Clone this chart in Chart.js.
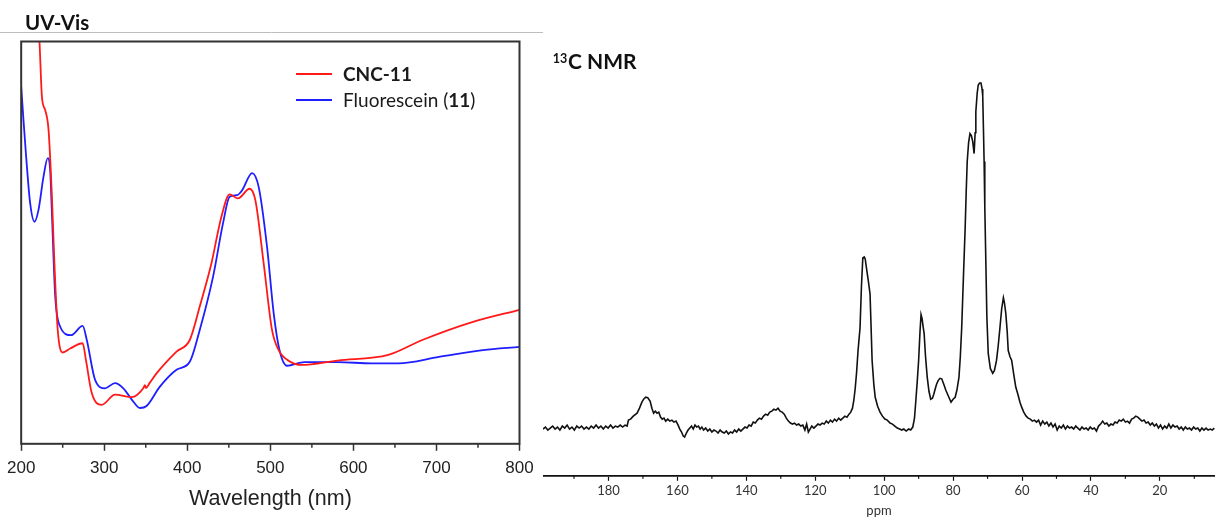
<!DOCTYPE html>
<html><head><meta charset="utf-8">
<script src="https://cdn.jsdelivr.net/npm/chart.js@4.4.0/dist/chart.umd.min.js"></script>
<style>
html,body{margin:0;padding:0;background:#fff;overflow:hidden}
#wrap{position:relative;width:1215px;height:521px}
canvas{position:absolute;top:0}
#uv{left:0}
#nmr{left:543px}
</style></head><body>
<div id="wrap"><canvas id="uv" width="543" height="521"></canvas><canvas id="nmr" width="672" height="521"></canvas></div>
<script>
// ---------- UV-Vis data ----------
const uvTitle = 'UV-Vis';
const uvXTitle = 'Wavelength (nm)';
const redLabel = 'CNC-11';
const blueLabel = 'Fluorescein (11)';
const redWavelength = [212,222,225,229,233,237,240,244,250,259,274,278,285,297,313,333,347,349,350,355,363,387,403,415,429,441,451,461,475,482,492,502,510,524,537,581,642,683,744,800];
const redAbsorbance = [1.25,1.0,0.862,0.829,0.779,0.614,0.449,0.283,0.227,0.237,0.250,0.208,0.126,0.097,0.122,0.116,0.138,0.146,0.139,0.152,0.175,0.229,0.258,0.341,0.448,0.564,0.620,0.610,0.634,0.605,0.448,0.283,0.233,0.204,0.196,0.207,0.221,0.258,0.303,0.333];
const blueWavelength = [200,202.8,206,210.8,216,220.8,226.8,232,234.9,237,241,247,260,274,279,289,301,313,323,335,343,351,367,387,403,415,431,443,451,460,466,478,486,496,504,511,520,541,581,622,654,703,756,800];
const blueAbsorbance = [0.888,0.804,0.713,0.598,0.552,0.581,0.663,0.710,0.680,0.573,0.366,0.291,0.270,0.293,0.258,0.159,0.138,0.151,0.138,0.105,0.089,0.094,0.142,0.184,0.204,0.283,0.415,0.548,0.614,0.618,0.630,0.673,0.638,0.490,0.325,0.233,0.194,0.203,0.203,0.200,0.200,0.216,0.233,0.241];
const uvMinorTicks = [250,350,450,550,650,750];

// ---------- 13C NMR data ----------
const nmrXTitle = 'ppm';
const nmrPpm = [
199.0,198.3,197.6,196.9,196.2,195.5,194.8,194.1,193.4,192.7,
192.0,191.3,190.6,189.9,189.2,188.5,187.8,187.1,186.4,185.7,
185.0,184.3,183.6,182.9,182.2,181.5,180.8,180.1,179.4,178.7,
178.0,177.3,176.6,175.9,175.2,174.6,174.2,173.6,172.8,171.7,
171.0,170.3,169.8,169.2,168.6,167.9,167.4,166.9,166.4,165.9,
165.4,164.9,164.4,163.9,163.4,162.8,162.2,161.6,161.0,160.4,
159.8,159.3,158.8,158.3,157.9,157.4,156.9,156.4,155.9,155.4,
154.9,154.4,153.9,153.4,152.9,152.4,151.8,151.2,150.6,150.0,
149.4,148.8,148.2,147.6,147.0,146.4,145.8,145.2,144.6,144.0,
143.4,142.8,142.2,141.6,141.0,140.4,139.8,139.2,138.6,138.0,
137.4,136.8,136.2,135.6,135.0,134.4,133.8,133.2,132.6,132.0,
131.4,130.8,130.2,129.6,129.0,128.4,127.8,127.2,126.6,126.0,
125.4,124.8,124.2,123.6,123.0,122.5,122.0,121.5,121.0,120.4,
119.8,119.2,118.6,118.0,117.4,116.8,116.2,115.6,115.0,114.4,
113.8,113.2,112.6,112.0,111.4,110.8,110.2,109.7,109.2,108.8,
108.4,108.0,107.6,107.0,106.6,106.2,105.8,105.5,105.1,104.6,
104.1,103.8,103.5,103.0,102.6,101.9,101.2,100.5,99.8,99.1,
98.3,97.6,96.9,96.2,95.5,94.9,94.3,93.6,92.9,92.3,
91.7,91.2,90.8,90.4,90.0,89.6,89.3,89.0,88.7,88.4,
88.0,87.5,87.0,86.5,86.0,85.6,85.3,84.8,84.3,83.8,
83.3,82.7,82.1,81.6,81.1,80.6,80.0,79.4,78.9,78.3,
77.9,77.5,77.0,76.5,76.2,75.9,75.5,75.1,74.7,74.3,
73.9,73.6,73.4,73.0,72.7,72.3,71.9,71.6,71.4,71.2,
71.0,70.8,70.5,70.2,69.8,69.2,68.5,68.0,67.4,66.9,
66.4,65.9,65.4,65.1,64.7,64.3,64.0,63.5,63.0,62.4,
61.8,61.2,60.6,60.1,59.5,58.8,58.2,57.6,57.0,56.4,
55.8,55.2,54.6,54.0,53.4,52.8,52.2,51.6,51.0,50.4,
49.8,49.2,48.6,48.0,47.4,46.8,46.2,45.6,45.0,44.4,
43.8,43.2,42.6,42.0,41.4,40.8,40.2,39.6,39.0,38.4,
37.8,37.2,36.6,36.0,35.4,34.8,34.2,33.6,33.0,32.4,
31.8,31.2,30.6,30.0,29.4,28.8,28.2,27.6,27.0,26.4,
25.8,25.2,24.6,24.0,23.4,22.8,22.2,21.6,21.0,20.4,
19.8,19.2,18.6,18.0,17.4,16.8,16.2,15.6,15.0,14.4,
13.8,13.2,12.6,12.0,11.4,10.8,10.2,9.6,9.0,8.4,
7.8,7.2,6.6,6.0,5.4,4.8,4.2];
const nmrIntensity = [
47,49,46,48,50,47,49,46,50,48,
51,47,49,46,50,48,50,47,49,47,
50,48,51,48,50,47,50,48,51,48,
50,49,51,49,51,50,56,57,60,63,
68,74,77,79,78.5,75,68,63,65,63,
64,59,57,58,55,57,55,56,54,55,
51,47,44,40,39,43,46,48,50,47,
51,49,50,47,49,46,48,45,47,44,
46,45,43,46,44,43,45,42,44,43,
46,44,47,45,47,49,48,51,50,54,
53,56,58,57,60,62,61,64,65,67,
66,68,65,64,62,58,55,53,52,53,
51,52,50,51,46,52,44,47,50,48,
50,52,51,53,52,55,53,56,54,57,
55,58,56,58,60,59,62,64,68,76,
88,104,125,149,190,219,220,218,208,196,
183,150,116,92,79,70,64,60,57,56,
53,52,50,48,47,46,47,45,47,46,
49,58,76,95,116,145,162,158,150,143,
120,99,85,77,78,82,86,92,96,98,
97.5,92,86,82,78,74,77,79,86,99,
120,149,200,249,285,316,335,344,342,336,
324,345,366,385,393,395,395,389,382,350,
316,270,216,160,123,108,103,106,116,131,
149,168,179,174,163,145,126,120,116,102,
89,82,74,69,64,60,58,57,55,56,
54,56,51,55,52,54,50,53,49,52,
46,50,48,51,47,50,48,49,47,50,
48,46,49,47,48,46,49,47,48,45,
50,52,55,52,53,50,52,51,54,53,
56,55,57,54,55,53,57,58,60,59,
57,55,56,53,54,51,53,50,52,48,
51,47,50,48,52,48,51,49,50,47,
49,46,49,47,48,46,49,47,48,45,
48,46,48,46,47,46,48];
const nmrMinorTicks = [190,170,150,130,110,90,70,50,30,10];

function pairs(xs, ys){ return xs.map((x,i)=>({x:x, y:ys[i]})); }

// ---------- UV-Vis chart ----------
const uvDecor = {
  id:'uvDecor',
  afterDraw(chart){
    const ctx = chart.ctx, a = chart.chartArea, x = chart.scales.x;
    ctx.save();
    ctx.strokeStyle = '#bdbdbd'; ctx.lineWidth = 1;
    ctx.beginPath(); ctx.moveTo(0, 32.5); ctx.lineTo(543, 32.5); ctx.stroke();
    ctx.fillStyle = '#111'; ctx.font = 'bold 20.5px Lato'; ctx.textBaseline = 'alphabetic';
    ctx.fillText(uvTitle, 25, 30);
    ctx.strokeStyle = '#333'; ctx.lineWidth = 2;
    ctx.strokeRect(a.left, a.top, a.right - a.left, a.bottom - a.top);
    ctx.lineWidth = 1.5;
    uvMinorTicks.forEach(v => {
      const px = x.getPixelForValue(v);
      ctx.beginPath(); ctx.moveTo(px, a.bottom); ctx.lineTo(px, a.bottom + 4); ctx.stroke();
    });
    // legend
    const ds = chart.data.datasets;
    ctx.lineWidth = 1.8;
    ctx.strokeStyle = ds[0].borderColor;
    ctx.beginPath(); ctx.moveTo(296, 74); ctx.lineTo(332, 74); ctx.stroke();
    ctx.strokeStyle = ds[1].borderColor;
    ctx.beginPath(); ctx.moveTo(296, 100); ctx.lineTo(332, 100); ctx.stroke();
    ctx.fillStyle = '#1a1a1a';
    ctx.font = 'bold 19px Lato';
    ctx.fillText(redLabel, 343, 80.7);
    let tx = 343;
    const parts = [['Fluorescein (', '19px Lato'], ['11', 'bold 19px Lato'], [')', '19px Lato']];
    parts.forEach(p => { ctx.font = p[1]; ctx.fillText(p[0], tx, 106.7); tx += ctx.measureText(p[0]).width; });
    ctx.restore();
  }
};

new Chart(document.getElementById('uv'), {
  type:'line',
  data:{ datasets:[
    { label: redLabel, data: pairs(redWavelength, redAbsorbance), borderColor:'rgb(255,25,25)', borderWidth:1.8, pointRadius:0, cubicInterpolationMode:'monotone', fill:false },
    { label: blueLabel, data: pairs(blueWavelength, blueAbsorbance), borderColor:'rgb(30,30,255)', borderWidth:1.8, pointRadius:0, cubicInterpolationMode:'monotone', fill:false }
  ]},
  options:{
    responsive:false, animation:false, devicePixelRatio:1,
    layout:{ padding:{ left:21, right:23.5, top:41.5, bottom:9 } },
    plugins:{ legend:{display:false}, tooltip:{enabled:false}, title:{display:false} },
    scales:{
      x:{ type:'linear', min:200, max:800,
        border:{display:false},
        grid:{ display:true, drawOnChartArea:false, drawTicks:true, tickLength:7, tickColor:'#333', tickWidth:1.5 },
        ticks:{ stepSize:100, padding:7, color:'#222', font:{family:'Liberation Sans', size:17}, maxRotation:0, autoSkip:false },
        title:{ display:true, text:uvXTitle, color:'#222', font:{family:'Liberation Sans', size:21.5}, padding:{top:1, bottom:0} }
      },
      y:{ display:false, min:0, max:1 }
    }
  },
  plugins:[uvDecor]
});

// ---------- 13C NMR chart ----------
const nmrDecor = {
  id:'nmrDecor',
  afterDraw(chart){
    const ctx = chart.ctx, a = chart.chartArea, x = chart.scales.x;
    ctx.save();
    ctx.fillStyle = '#111'; ctx.textBaseline = 'alphabetic';
    ctx.font = 'bold 12.5px Lato';
    ctx.fillText('13', 9.7, 62.5);
    ctx.font = 'bold 21px Lato';
    ctx.fillText('C NMR', 25, 69.3);
    ctx.strokeStyle = '#111'; ctx.lineWidth = 1.2;
    nmrMinorTicks.forEach(v => {
      const px = x.getPixelForValue(v);
      ctx.beginPath(); ctx.moveTo(px, a.bottom); ctx.lineTo(px, a.bottom + 3); ctx.stroke();
    });
    ctx.restore();
  }
};

new Chart(document.getElementById('nmr'), {
  type:'line',
  data:{ datasets:[
    { label:'13C NMR', data: pairs(nmrPpm, nmrIntensity), borderColor:'#111', borderWidth:1.6, pointRadius:0, tension:0, fill:false }
  ]},
  options:{
    responsive:false, animation:false, devicePixelRatio:1,
    layout:{ padding:{ left:0, right:0, top:78, bottom:2 } },
    plugins:{ legend:{display:false}, tooltip:{enabled:false}, title:{display:false} },
    scales:{
      x:{ type:'linear', reverse:true, min:4, max:199,
        afterBuildTicks: ax => { ax.ticks = ax.ticks.filter(t => t.value % 20 === 0 && t.value > 0); },
        border:{display:true, color:'#111', width:1.8},
        grid:{ display:true, drawOnChartArea:false, drawTicks:true, tickLength:5, tickColor:'#111', tickWidth:1.2 },
        ticks:{ stepSize:20, includeBounds:false, padding:2, color:'#333', font:{family:'Lato', size:13}, maxRotation:0, autoSkip:false },
        title:{ display:true, text:nmrXTitle, color:'#333', font:{family:'Lato', size:13}, padding:{top:3, bottom:0} }
      },
      y:{ display:false, min:0, max:400 }
    }
  },
  plugins:[nmrDecor]
});
</script>
</body></html>
